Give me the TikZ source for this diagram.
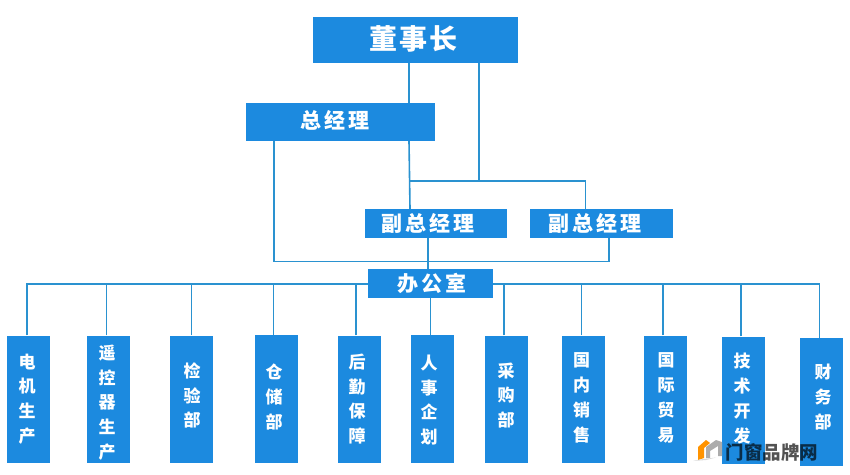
\documentclass[tikz,border=0pt]{standalone}
\usepackage{fontspec}
\setmainfont{Noto Sans CJK SC}
\usetikzlibrary{calc}
\definecolor{boxblue}{HTML}{1C8ADF}
\definecolor{wire}{HTML}{2A92D0}
\tikzset{
  x=1pt,y=-1pt,
  wirel/.style={draw=wire,line width=1.6pt},
  box/.style={fill=boxblue,draw=none,inner sep=0pt,text=white,font=\bfseries},
  dept/.style={box,minimum width=43pt,minimum height=127.5pt},
  dtext/.style={text=white,inner sep=0pt,align=center,font=\fontsize{17pt}{24.8pt}\selectfont\bfseries},
  mtext/.style={text=white,inner sep=0pt,font=\fontsize{21pt}{24pt}\selectfont\bfseries},
}
\newcommand{\gp}[1]{\hspace{#1pt}}
\begin{document}
\begin{tikzpicture}
\useasboundingbox (0,0) rectangle (850,474);
\fill[white] (0,0) rectangle (850,474);
\coordinate (bus) at (0,284);
\coordinate (joint) at (0,181);
\coordinate (low) at (0,261.5);
\node[box,minimum width=205pt,minimum height=46pt] (boss) at (415.5,40) {};
\node[box,minimum width=189pt,minimum height=38pt] (gm) at (340.5,122) {};
\node[box,minimum width=142pt,minimum height=29pt] (vp1) at (436,223.5) {};
\node[box,minimum width=143pt,minimum height=29pt] (vp2) at (601.5,223.5) {};
\node[box,minimum width=125pt,minimum height=29pt] (off) at (430.5,283.5) {};
\node[dept] (d1) at (28.25,399.25) {};
\node[dept] (d2) at (108.5,399.25) {};
\node[dept] (d3) at (191.5,399.25) {};
\node[dept] (d4) at (276.5,399) {};
\node[dept] (d5) at (359,399.25) {};
\node[dept] (d6) at (432.3,399) {};
\node[dept] (d7) at (506.8,399.25) {};
\node[dept] (d8) at (583.6,399.25) {};
\node[dept] (d9) at (665.6,399.25) {};
\node[dept] (d10) at (743.5,400.25) {};
\node[dept] (d11) at (821,401.75) {};
\begin{scope}[wirel]
\draw ([xshift=-6.5pt]boss.south) -- ([xshift=68.5pt]gm.north);
\draw ([xshift=63.5pt]boss.south) -- ([xshift=63.5pt]boss.south |- joint);
\draw ([xshift=68.5pt]gm.south) -- ([xshift=-26pt]vp1.north);
\draw ([xshift=-26pt]vp1.north |- joint) -- ([xshift=-16pt]vp2.north |- joint) -- ([xshift=-16pt]vp2.north);
\draw ([xshift=-66.5pt]gm.south) -- ([xshift=-66.5pt]gm.south |- low) -- ([xshift=7.5pt]vp2.south |- low) -- ([xshift=7.5pt]vp2.south);
\draw ([xshift=-8pt]vp1.south) -- ([xshift=-2.5pt]off.north);
\draw (off.south) -- ([xshift=-1.8pt]d6.north);
\draw ([xshift=-1.25pt]d1.north) -- ([xshift=-1.25pt]d1.north |- bus) -- (off.west |- bus);
\draw (off.east |- bus) -- ([xshift=-1.5pt]d11.north |- bus) -- ([xshift=-1.5pt]d11.north);
\draw ([xshift=-2pt]d2.north) -- ([xshift=-2pt]d2.north |- bus);
\draw (d3.north) -- (d3.north |- bus);
\draw ([xshift=-3pt]d4.north) -- ([xshift=-3pt]d4.north |- bus);
\draw ([xshift=-3pt]d5.north) -- ([xshift=-3pt]d5.north |- bus);
\draw ([xshift=-2.8pt]d7.north) -- ([xshift=-2.8pt]d7.north |- bus);
\draw ([xshift=-2.1pt]d8.north) -- ([xshift=-2.1pt]d8.north |- bus);
\draw ([xshift=-2.6pt]d9.north) -- ([xshift=-2.6pt]d9.north |- bus);
\draw ([xshift=-2.5pt]d10.north) -- ([xshift=-2.5pt]d10.north |- bus);
\end{scope}
\node[text=white,inner sep=0pt,font=\fontsize{28pt}{30pt}\selectfont\bfseries] at ($(boss.center)+(-2,-1)$) {董\gp{2}事\gp{2}长};
\node[mtext] at ($(gm.center)+(-5.5,-2)$) {总\gp{3}经\gp{3}理};
\node[mtext] at ($(vp1.center)+(-8,0)$) {副\gp{3}总\gp{3}经\gp{3}理};
\node[mtext] at ($(vp2.center)+(-6.5,0)$) {副\gp{3}总\gp{3}经\gp{3}理};
\node[mtext] at ($(off.center)+(1.5,0)$) {办\gp{3}公\gp{3}室};
\node[dtext] at (27,399) {电\\机\\生\\产};
\node[dtext] at (107,402.5) {遥\\控\\器\\生\\产};
\node[dtext] at (192,395.5) {检\\验\\部};
\node[dtext] at (274,397) {仓\\储\\部};
\node[dtext] at (357,399) {后\\勤\\保\\障};
\node[dtext] at (429,400) {人\\事\\企\\划};
\node[dtext] at (506,395.5) {采\\购\\部};
\node[dtext] at (581.5,398) {国\\内\\销\\售};
\node[dtext] at (666,398) {国\\际\\贸\\易};
\node[dtext] at (742,398.5) {技\\术\\开\\发};
\node[dtext] at (823,397) {财\\务\\部};
% watermark
\fill[orange!85!yellow] (698,460) -- (698,447) -- (706,440) -- (710,443) -- (704,448) -- (704,458) -- cycle;
\fill[gray!65] (706,458) -- (706,447) -- (716,440) -- (722,442) -- (722,456) -- (718,456) -- (718,446) -- (710,451) -- (710,458) -- cycle;
\fill[gray!30] (693,461) -- (700,459.5) -- (716,457.5) -- (706,460) -- cycle;
\node[text=black,opacity=0.68,inner sep=0pt,font=\fontsize{18.5pt}{18pt}\selectfont\bfseries] at (772,452) {门窗品牌网};
\end{tikzpicture}
\end{document}
